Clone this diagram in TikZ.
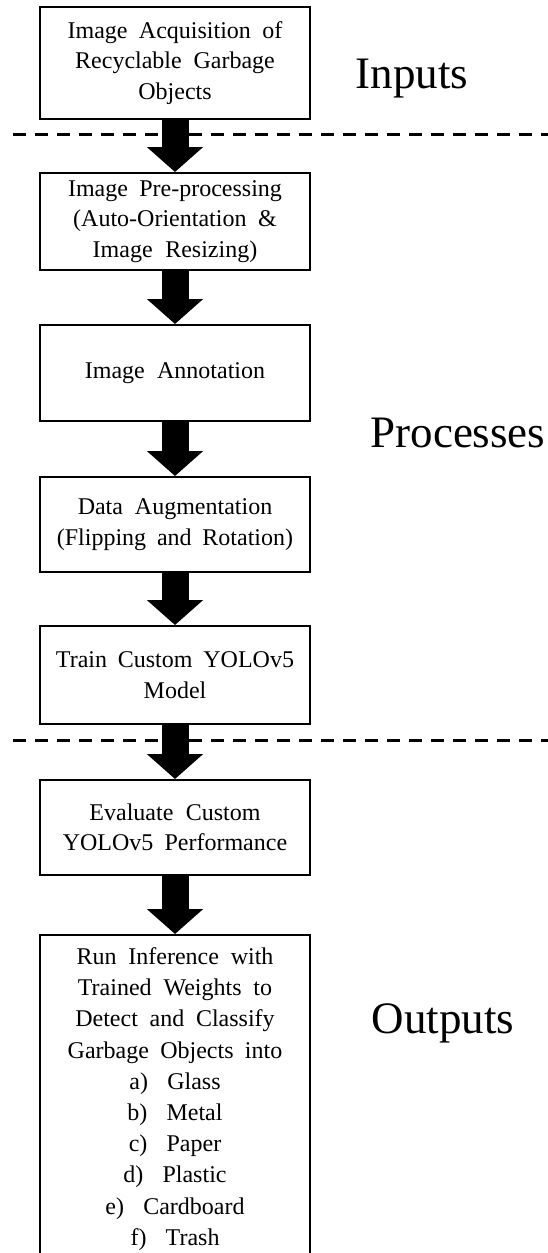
\documentclass[tikz,border=0pt]{standalone}
\usepackage{fontspec}
\setmainfont{Liberation Serif}
\usetikzlibrary{arrows.meta}
\newcommand\widespaces{\spaceskip=0.42em plus 0.1em minus 0.05em\relax}
\begin{document}
\begin{tikzpicture}[x=1pt,y=-1pt,
  stepbox/.style={draw, line width=2pt, text width=266pt, align=center,
    minimum width=270pt, inner sep=0pt,
    font=\fontsize{24}{30.5}\selectfont,
    execute at begin node=\widespaces},
  sectlabel/.style={font=\fontsize{45}{50}\selectfont, anchor=base, inner sep=0pt},
  flow/.style={line width=27pt, -{Triangle[width=55pt,length=25pt]}},
  sepline/.style={line width=3pt, dash pattern=on 13pt off 9pt},
]
\useasboundingbox (0,0) rectangle (548,1253);
\clip (0,0) rectangle (548,1253);

% separators
\coordinate (s1a) at (13,134);
\coordinate (s1b) at (548,134);
\coordinate (s2a) at (13,740);
\coordinate (s2b) at (548,740);
\draw[sepline] (s1a) -- (s1b);
\draw[sepline] (s2a) -- (s2b);

% boxes
\node[stepbox, minimum height=112pt] (b1) at (175,63)
  {Image Acquisition of\\Recyclable Garbage\\Objects};
\node[stepbox, minimum height=97pt] (b2) at (175,221.5)
  {Image Pre-processing\\(Auto-Orientation \&\\Image Resizing)};
\node[stepbox, minimum height=96pt] (b3) at (175,373)
  {Image Annotation};
\node[stepbox, minimum height=95pt] (b4) at (175,524.5)
  {Data Augmentation\\(Flipping and Rotation)};
\node[stepbox, minimum height=98pt] (b5) at (175,675)
  {Train Custom YOLOv5\\Model};
\node[stepbox, minimum height=95pt] (b6) at (175,827.5)
  {Evaluate Custom\\YOLOv5 Performance};
\node[stepbox, minimum height=328pt, font=\fontsize{24}{31.2}\selectfont] (b7) at (175,1099)
  {Run Inference with\\Trained Weights to\\Detect and Classify\\Garbage Objects into\\
   a)\hspace{0.8em}Glass\\b)\hspace{0.8em}Metal\\c)\hspace{0.8em}Paper\\
   d)\hspace{0.8em}Plastic\\e)\hspace{0.8em}Cardboard\\f)\hspace{0.8em}Trash};

% arrows
\draw[flow] (b1.south) -- (b2.north);
\draw[flow] (b2.south) -- (b3.north);
\draw[flow] (b3.south) -- (b4.north);
\draw[flow] (b4.south) -- (b5.north);
\draw[flow] (b5.south) -- (b6.north);
\draw[flow] (b6.south) -- (b7.north);

% section labels
\node[sectlabel] (inputs) at (412,88) {Inputs};
\node[sectlabel] (processes) at (458,447) {Processes};
\node[sectlabel] (outputs) at (443,1033) {Outputs};
\end{tikzpicture}
\end{document}
